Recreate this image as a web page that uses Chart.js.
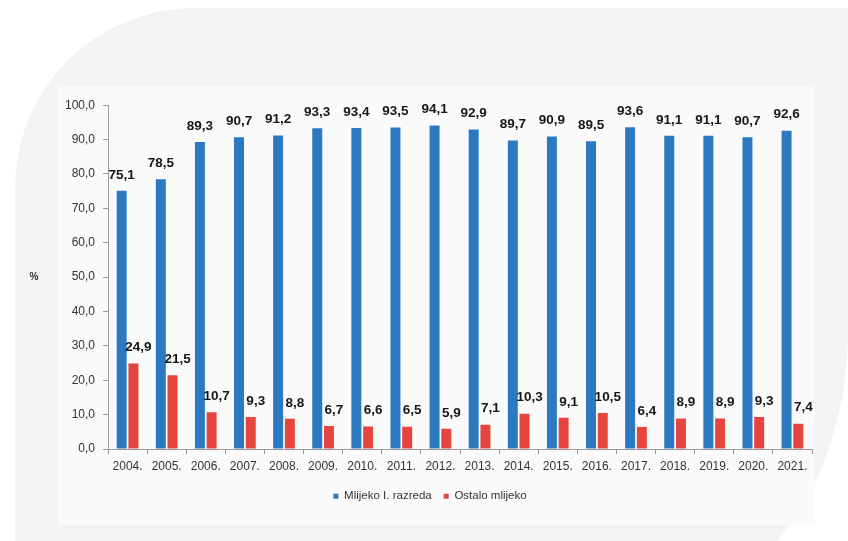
<!DOCTYPE html>
<html lang="hr">
<head>
<meta charset="utf-8">
<title>Mlijeko I. razreda i ostalo mlijeko</title>
<script src="https://cdn.jsdelivr.net/npm/chart.js@4/dist/chart.umd.min.js"></script>
<style>
  html, body { margin: 0; padding: 0; background: #ffffff; }
  body { width: 848px; height: 541px; position: relative; overflow: hidden; font-family: "Liberation Sans", Arial, sans-serif; }
  .panel {
    position: absolute; left: 15px; top: 8px; width: 833px; height: 592px;
    background: #f3f3f3;
    border-top-left-radius: 180px;
    border-bottom-right-radius: 190px 270px;
  }
  .sheet {
    position: absolute; left: 58px; top: 87px; width: 757px; height: 438px;
    background: #fafafa;
  }
  #wrap { position: absolute; left: 24px; top: 90px; width: 790px; height: 424px; }
</style>
</head>
<body>
<div class="panel"></div>
<div class="sheet"></div>
<div id="wrap"><canvas id="chart"></canvas></div>
<script>
// Godine
const years = ['2004.', '2005.', '2006.', '2007.', '2008.', '2009.', '2010.', '2011.', '2012.',
               '2013.', '2014.', '2015.', '2016.', '2017.', '2018.', '2019.', '2020.', '2021.'];
// Udio mlijeka I. razreda (%)
const firstClass = [75.1, 78.5, 89.3, 90.7, 91.2, 93.3, 93.4, 93.5, 94.1,
                    92.9, 89.7, 90.9, 89.5, 93.6, 91.1, 91.1, 90.7, 92.6];
// Udio ostalog mlijeka (%)
const otherMilk = [24.9, 21.5, 10.7, 9.3, 8.8, 6.7, 6.6, 6.5, 5.9,
                   7.1, 10.3, 9.1, 10.5, 6.4, 8.9, 8.9, 9.3, 7.4];
const seriesNames = ['Mlijeko I. razreda', 'Ostalo mlijeko'];
const yTicks = [0, 10, 20, 30, 40, 50, 60, 70, 80, 90, 100];
const yTitle = '%';

const fmt = v => v.toFixed(1).replace('.', ',');
const FONT = '"Liberation Sans", Arial, sans-serif';

// Vrijednosti iznad stupaca i oznaka osi Y
const valueLabels = {
  id: 'valueLabels',
  afterDatasetsDraw(chart) {
    const ctx = chart.ctx;
    ctx.save();
    ctx.font = 'bold 13.5px ' + FONT;
    ctx.fillStyle = '#161616';
    ctx.textAlign = 'center';
    ctx.textBaseline = 'middle';
    chart.data.datasets.forEach((ds, di) => {
      const meta = chart.getDatasetMeta(di);
      const shift = di === 1 ? 5 : 0;
      meta.data.forEach((bar, i) => {
        ctx.fillText(fmt(ds.data[i]), bar.x + shift, bar.y - 16);
      });
    });
    // oznaka osi Y
    const yScale = chart.scales.y;
    ctx.font = 'bold 10px ' + FONT;
    ctx.fillStyle = '#333333';
    ctx.fillText(yTitle, 10, yScale.getPixelForValue(50));
    ctx.restore();
  }
};

new Chart(document.getElementById('chart'), {
  type: 'bar',
  data: {
    labels: years,
    datasets: [
      { label: seriesNames[0], data: firstClass, backgroundColor: '#2a79c1',
        categoryPercentage: 0.6, barPercentage: 0.85 },
      { label: seriesNames[1], data: otherMilk, backgroundColor: '#e6453f',
        categoryPercentage: 0.6, barPercentage: 0.85 }
    ]
  },
  options: {
    responsive: true,
    maintainAspectRatio: false,
    animation: false,
    devicePixelRatio: 1,
    layout: { padding: { left: 24, top: 9, right: 2, bottom: 2 } },
    plugins: {
      tooltip: { enabled: false },
      legend: {
        position: 'bottom',
        labels: {
          usePointStyle: true, pointStyle: 'rect', boxWidth: 5, boxHeight: 5,
          color: '#333333', font: { family: FONT, size: 11.5 }, padding: 12
        }
      }
    },
    scales: {
      x: {
        grid: { display: true, drawOnChartArea: false, drawTicks: true, tickLength: 5, color: '#9a9a9a', offset: true },
        border: { display: true, color: '#9a9a9a' },
        ticks: { color: '#333333', font: { family: FONT, size: 12 }, padding: 5, maxRotation: 0, autoSkip: false }
      },
      y: {
        min: 0, max: 100,
        afterFit(scale) { scale.width = 60; },
        afterBuildTicks(scale) { scale.ticks = yTicks.map(v => ({ value: v })); },
        grid: { display: true, drawOnChartArea: false, drawTicks: true, tickLength: 5, color: '#9a9a9a' },
        border: { display: true, color: '#9a9a9a' },
        ticks: { color: '#333333', font: { family: FONT, size: 12 }, padding: 8, callback: v => fmt(v) }
      }
    }
  },
  plugins: [valueLabels]
});
</script>
</body>
</html>
